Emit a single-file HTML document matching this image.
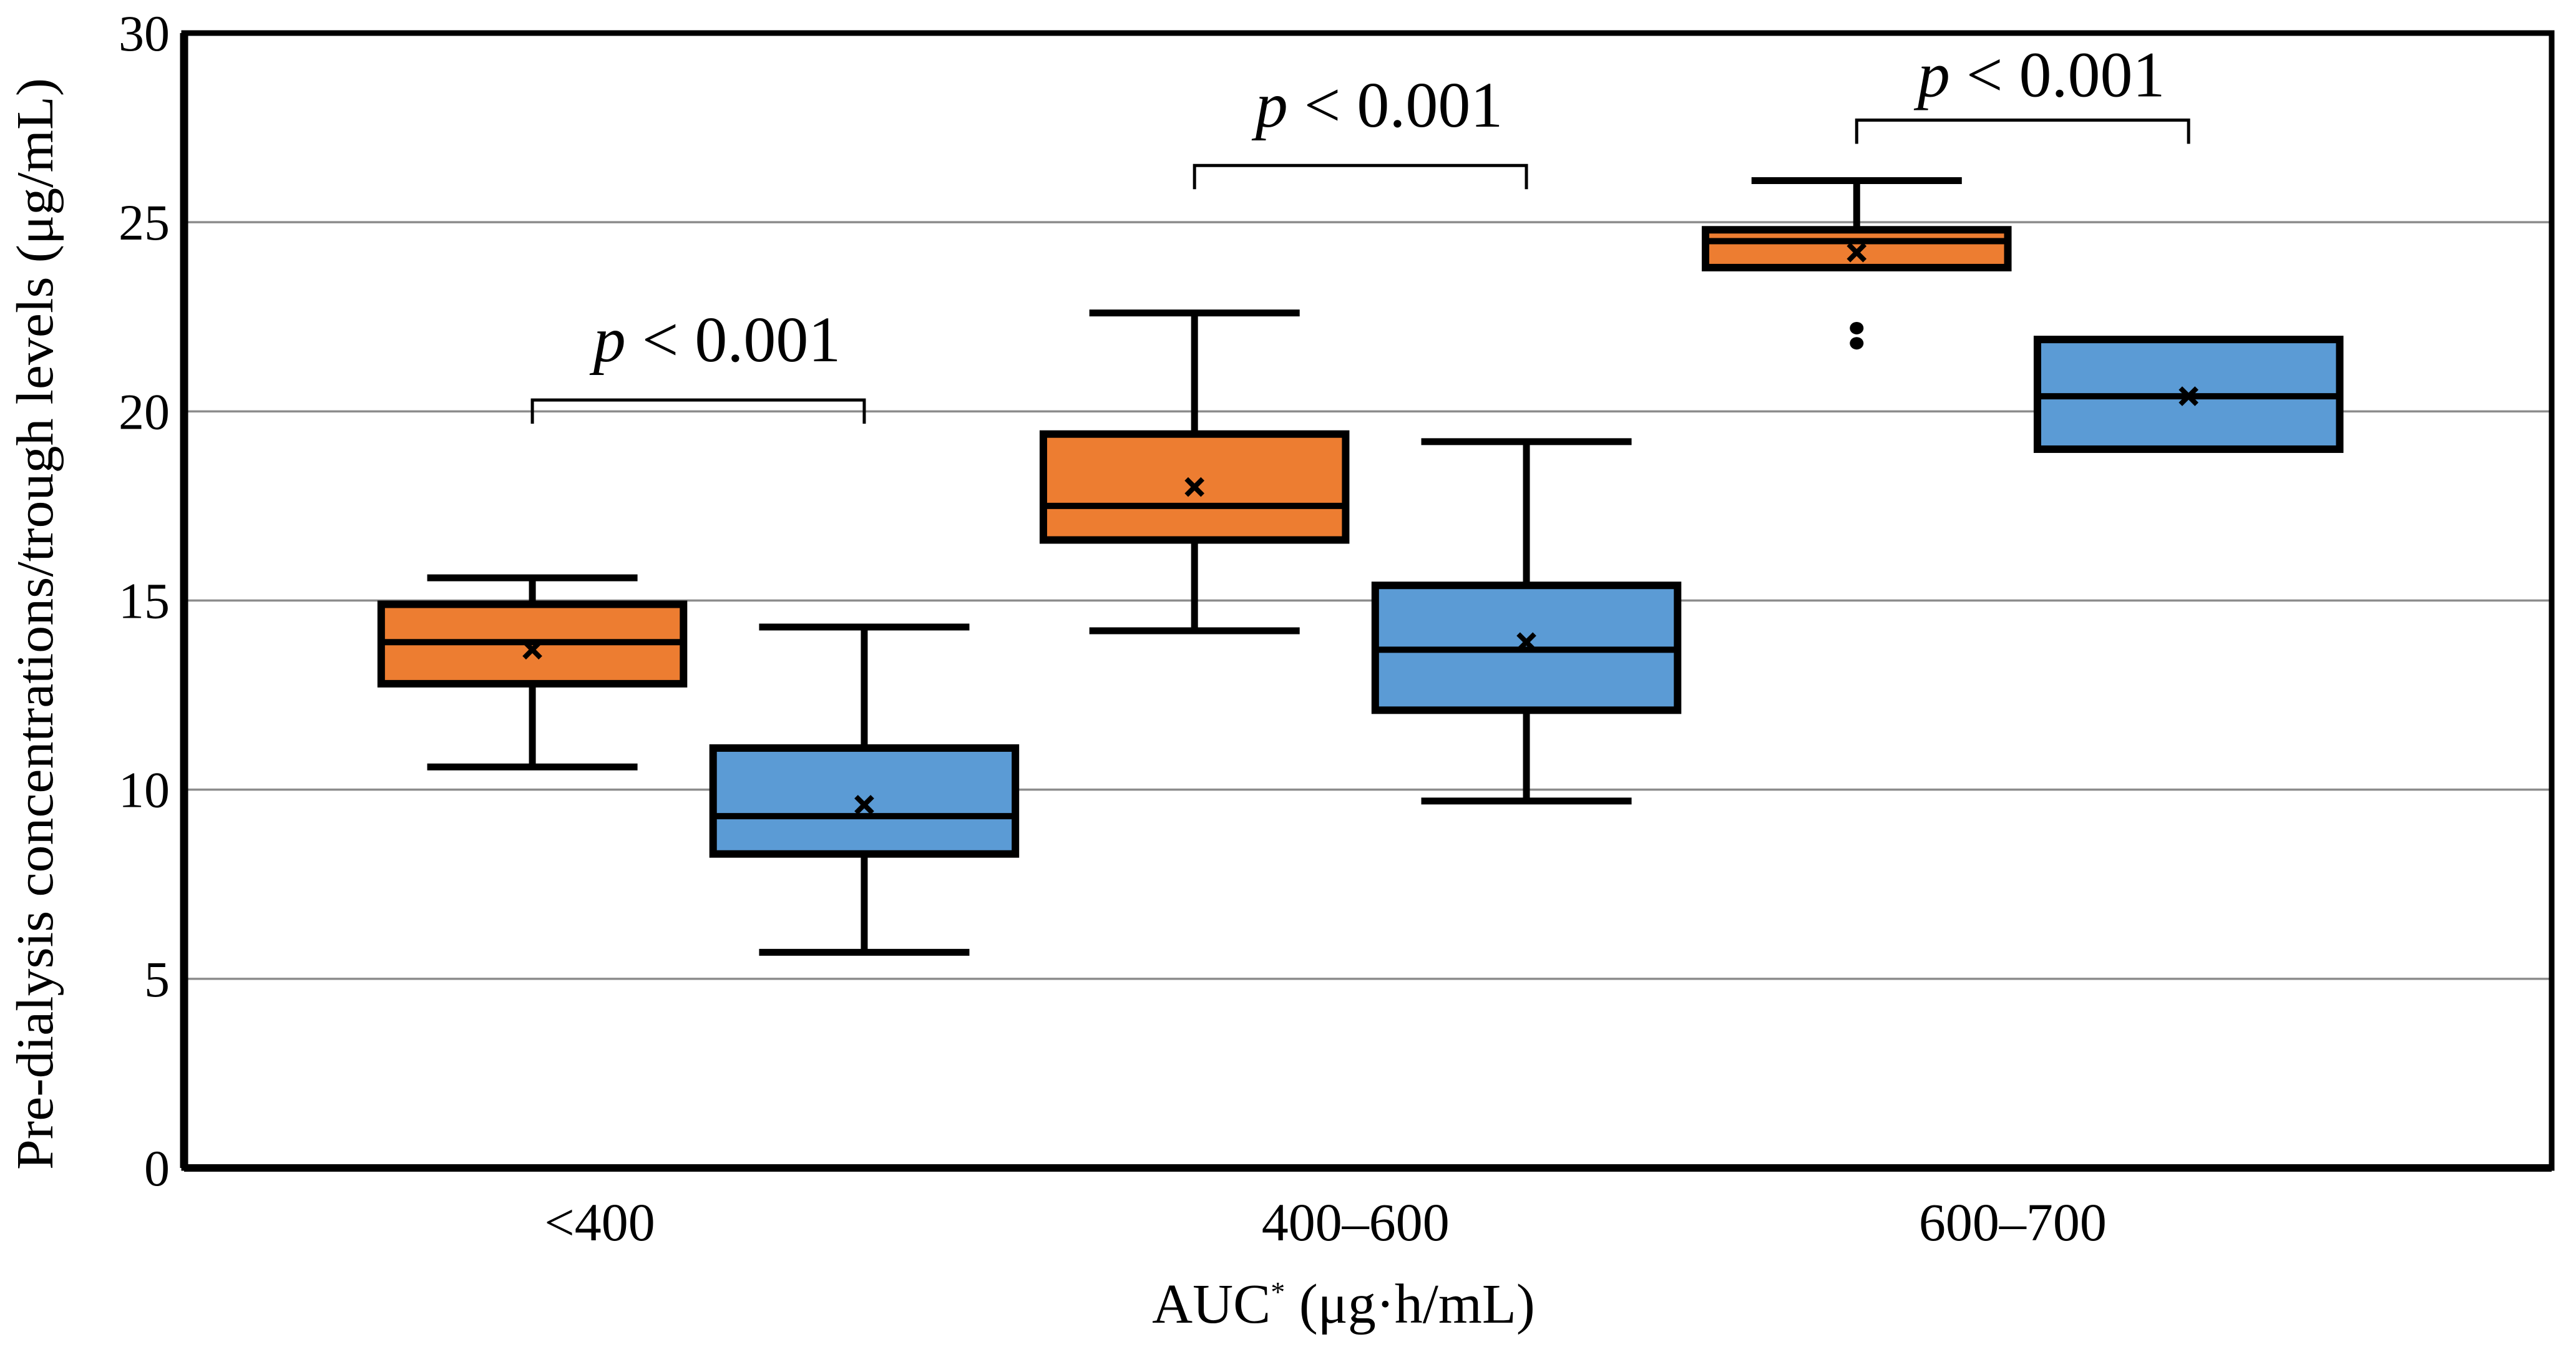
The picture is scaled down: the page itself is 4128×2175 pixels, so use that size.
<!DOCTYPE html>
<html><head><meta charset="utf-8"><style>
html,body{margin:0;padding:0;background:#fff;}
svg{display:block;}
text{font-family:"Liberation Serif",serif;fill:#000;}
</style></head><body>
<svg id="chart" width="4128" height="2175" viewBox="0 0 4128 2175">
<g id="grid"></g>
<g id="boxes"></g>
<g id="brackets"></g>
<rect x="295" y="53" width="3794" height="1819" fill="none" stroke="#000" stroke-width="9"/>
<line x1="295" y1="53" x2="295" y2="1872" stroke="#000" stroke-width="13"/>
<line x1="295" y1="1872" x2="4089" y2="1872" stroke="#000" stroke-width="12"/>
<g id="yticks"></g>
<g id="xticks"></g>
<text x="2153" y="2120" font-size="90" text-anchor="middle">AUC<tspan font-size="46" dy="-34">*</tspan><tspan dy="34"> (μg·h/mL)</tspan></text>
<text transform="translate(84,1000) rotate(-90)" font-size="84" text-anchor="middle" textLength="1750" lengthAdjust="spacingAndGlyphs">Pre-dialysis concentrations/trough levels (μg/mL)</text>
</svg>
<script>
const categories = ["<400", "400–600", "600–700"];
const yTicks = [0, 5, 10, 15, 20, 25, 30];
const orangeMin = [10.6, 14.2, 23.8];
const orangeQ1 = [12.8, 16.6, 23.8];
const orangeMedian = [13.9, 17.5, 24.5];
const orangeQ3 = [14.9, 19.4, 24.8];
const orangeMax = [15.6, 22.6, 26.1];
const orangeMean = [13.7, 18.0, 24.2];
const orangeOutliers = [[], [], [22.2, 21.8]];
const blueMin = [5.7, 9.7, 19.0];
const blueQ1 = [8.3, 12.1, 19.0];
const blueMedian = [9.3, 13.7, 20.4];
const blueQ3 = [11.1, 15.4, 21.9];
const blueMax = [14.3, 19.2, 21.9];
const blueMean = [9.6, 13.9, 20.4];
const blueOutliers = [[], [], []];
const bracketHeights = [20.3, 26.5, 27.7];
const pLabels = ["p < 0.001", "p < 0.001", "p < 0.001"];

const NS = "http://www.w3.org/2000/svg";
const S = 2.633;
function yScale(v){ return 1872 - v * (1819/30); }
function groupX(i){ return (324 + i*403) * S; }
const seriesOffset = [0, 202*S];
const labelX = [365*S, 825*S, 1225*S];
const textDy = [-62, -62, -38];
const boxW = 184*S, capW = 64*S;
function mk(tag, attrs, parent){ const e=document.createElementNS(NS,tag); for(const k in attrs) e.setAttribute(k,attrs[k]); parent.appendChild(e); return e; }

const grid=document.getElementById('grid'), yt=document.getElementById('yticks'), xt=document.getElementById('xticks');
yTicks.forEach(v=>{
  if(v>0 && v<30){ const l=mk('line',{x1:295,x2:4089,y1:yScale(v),y2:yScale(v),stroke:'#8c8c8c','stroke-width':3.5},grid);
    
     }
  const t=mk('text',{x:272,y:yScale(v)+28,'font-size':82,'text-anchor':'end'},yt);
  t.textContent=v;
  
  
});
categories.forEach((c,i)=>{
  const t=mk('text',{x:labelX[i],y:1988,'font-size':86,'text-anchor':'middle'},xt);
  t.textContent=c;
  
  
});

const boxes=document.getElementById('boxes');
const series=[
 {name:'orange',color:'#ED7D31',mn:orangeMin,q1:orangeQ1,md:orangeMedian,q3:orangeQ3,mx:orangeMax,mean:orangeMean,out:orangeOutliers},
 {name:'blue',color:'#5B9BD5',mn:blueMin,q1:blueQ1,md:blueMedian,q3:blueQ3,mx:blueMax,mean:blueMean,out:blueOutliers}];
series.forEach((s,si)=>{
  categories.forEach((c,i)=>{
    const cx=groupX(i)+seriesOffset[si];
    const g=mk('g',{},boxes);
    
    
    const sw=11;
    if(s.mx[i]>s.q3[i]){ mk('line',{x1:cx,x2:cx,y1:yScale(s.mx[i]),y2:yScale(s.q3[i]),stroke:'#000','stroke-width':sw},g);
      mk('line',{x1:cx-capW,x2:cx+capW,y1:yScale(s.mx[i]),y2:yScale(s.mx[i]),stroke:'#000','stroke-width':sw},g); }
    if(s.mn[i]<s.q1[i]){ mk('line',{x1:cx,x2:cx,y1:yScale(s.q1[i]),y2:yScale(s.mn[i]),stroke:'#000','stroke-width':sw},g);
      mk('line',{x1:cx-capW,x2:cx+capW,y1:yScale(s.mn[i]),y2:yScale(s.mn[i]),stroke:'#000','stroke-width':sw},g); }
    mk('rect',{x:cx-boxW/2,y:yScale(s.q3[i]),width:boxW,height:yScale(s.q1[i])-yScale(s.q3[i]),fill:s.color,stroke:'#000','stroke-width':12},g);
    mk('line',{x1:cx-boxW/2,x2:cx+boxW/2,y1:yScale(s.md[i]),y2:yScale(s.md[i]),stroke:'#000','stroke-width':10},g);
    const my=yScale(s.mean[i]), d=13;
    mk('path',{d:`M${cx-d},${my-d}L${cx+d},${my+d}M${cx-d},${my+d}L${cx+d},${my-d}`,stroke:'#000','stroke-width':8},g);
    s.out[i].forEach(o=>{ mk('ellipse',{cx:cx,cy:yScale(o),rx:11,ry:10,fill:'#000'},g); });
  });
});

const br=document.getElementById('brackets');
categories.forEach((c,i)=>{
  const x1=groupX(i), x2=groupX(i)+seriesOffset[1], y=yScale(bracketHeights[i]);
  const p=mk('path',{d:`M${x1},${y+38}L${x1},${y}L${x2},${y}L${x2},${y+38}`,fill:'none',stroke:'#000','stroke-width':5},br);
  
  
  const t=mk('text',{x:(x1+x2)/2+30,y:y+textDy[i],'font-size':104,'text-anchor':'middle'},br);
  t.innerHTML='<tspan font-style="italic">p</tspan>'+pLabels[i].slice(1);
  
  
});
</script>
</body></html>
